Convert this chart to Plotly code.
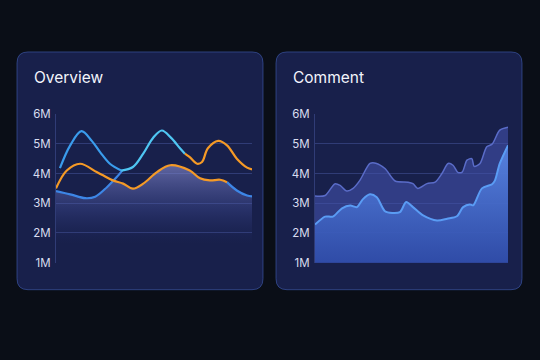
import plotly.graph_objects as go

# ---------------- data ----------------
tick_vals = [1, 2, 3, 4, 5, 6]
tick_text = ["1M", "2M", "3M", "4M", "5M", "6M"]

# Overview panel (values in millions)
ov_area_x = [0, 2.9, 6.0, 8.0, 10.4, 11.6, 13.7, 15.7, 17.8, 20.6, 23.3, 27.3, 29.4, 31.4, 33.5, 34.9, 36.9, 39.0, 40]
ov_area_y = [3.41, 3.3, 3.17, 3.22, 3.54, 3.76, 3.66, 3.49, 3.66, 4.05, 4.28, 4.1, 3.84, 3.77, 3.79, 3.71, 3.43, 3.26, 3.23]

ov_blue_low_x = [0, 2.9, 6.0, 8.0, 10.4, 12.4, 13.5]
ov_blue_low_y = [3.41, 3.3, 3.17, 3.22, 3.54, 3.88, 4.1]

ov_blue_end_x = [34.9, 36.9, 39.0, 40]
ov_blue_end_y = [3.71, 3.43, 3.26, 3.23]

ov_orange_x = [0, 2.2, 4.9, 8.3, 9.6, 11.6, 13.7, 15.7, 17.8, 20.6, 23.3, 27.3, 29.4, 31.4, 33.5, 34.9]
ov_orange_y = [3.5, 4.1, 4.33, 4.05, 3.94, 3.77, 3.66, 3.49, 3.66, 4.05, 4.28, 4.1, 3.84, 3.77, 3.79, 3.71]

ov_blue_top_x = [0.8, 2.9, 5.2, 7.3, 9.0, 11.0, 13.3]
ov_blue_top_y = [4.18, 4.95, 5.43, 5.1, 4.72, 4.33, 4.1]

ov_cyan_x = [13.3, 15.7, 17.8, 19.8, 21.6, 23.5, 25.3, 26.3]
ov_cyan_y = [4.1, 4.22, 4.67, 5.2, 5.45, 5.2, 4.85, 4.67]

ov_orange_top_x = [26.3, 27.3, 28.8, 29.8, 31.0, 33.1, 34.9, 36.9, 39.0, 40]
ov_orange_top_y = [4.67, 4.55, 4.33, 4.39, 4.85, 5.1, 4.95, 4.5, 4.2, 4.14]

# Comment panel
cm_upper_x = [0, 2.1, 4.1, 5.2, 6.6, 7.9, 9.3, 11.4, 12.6, 14.5, 16.6, 19.3, 20.3, 21.3, 23.2, 24.9,
              26.3, 27.6, 28.6, 29.6, 30.5, 31.5, 32.5, 33.0, 34.2, 35.6, 36.7, 38.3, 40]
cm_upper_y = [3.24, 3.26, 3.65, 3.6, 3.41, 3.5, 3.77, 4.34, 4.35, 4.17, 3.75, 3.71, 3.66, 3.5, 3.66, 3.71,
              4.0, 4.34, 4.28, 4.04, 4.05, 4.45, 4.5, 4.24, 4.34, 4.9, 4.99, 5.46, 5.56]

cm_lower_x = [0, 2.1, 3.7, 5.6, 7.3, 8.7, 9.9, 11.4, 12.8, 14.5, 16.0, 17.6, 18.9, 20.3, 22.4, 25.3,
              27.4, 29.4, 30.7, 32.1, 32.8, 34.6, 36.7, 37.3, 38.3, 40]
cm_lower_y = [2.28, 2.55, 2.55, 2.83, 2.92, 2.87, 3.13, 3.3, 3.2, 2.73, 2.67, 2.7, 3.04, 2.87, 2.59, 2.42,
              2.48, 2.56, 2.87, 2.96, 2.93, 3.5, 3.64, 3.77, 4.34, 4.95]

# ---------------- layout helpers ----------------
W, H = 540, 360
# empirical vertical calibration of the capture (y_seen = 0.958*y + 7.2)
VS, VO = 0.958, 7.2


def fx(p):
    return p / W


def fy(p):
    return 1 - ((p - VO) / VS) / H


def rounded_rect(x0, y0, x1, y1, r):
    rx, ry = r / W, (r / VS) / H
    X0, X1 = fx(x0), fx(x1)
    Y0, Y1 = fy(y0), fy(y1)  # Y0 top, Y1 bottom
    return (f"M {X0+rx},{Y0} L {X1-rx},{Y0} Q {X1},{Y0} {X1},{Y0-ry} "
            f"L {X1},{Y1+ry} Q {X1},{Y1} {X1-rx},{Y1} "
            f"L {X0+rx},{Y1} Q {X0},{Y1} {X0},{Y1+ry} "
            f"L {X0},{Y0-ry} Q {X0},{Y0} {X0+rx},{Y0} Z")


fig = go.Figure()

BLUE = "#3d86e6"
CYAN = "#4fc6f2"
ORANGE = "#f59a26"

# ---- Overview traces ----
fig.add_trace(go.Scatter(
    x=ov_area_x, y=ov_area_y, mode="lines", line=dict(width=0, shape="spline", smoothing=1),
    fill="tozeroy",
    fillgradient=dict(type="vertical", start=1.8, stop=4.3,
                      colorscale=[[0, "rgba(40,50,120,0)"], [0.45, "rgba(70,82,160,0.35)"],
                                  [1, "rgba(140,145,215,0.6)"]]),
    xaxis="x", yaxis="y", hoverinfo="skip", showlegend=False))
for xs, ys, col in [(ov_blue_low_x, ov_blue_low_y, BLUE),
                    (ov_blue_end_x, ov_blue_end_y, BLUE),
                    (ov_orange_x, ov_orange_y, ORANGE),
                    (ov_blue_top_x, ov_blue_top_y, "#3a9cec"),
                    (ov_cyan_x, ov_cyan_y, CYAN),
                    (ov_orange_top_x, ov_orange_top_y, ORANGE)]:
    fig.add_trace(go.Scatter(x=xs, y=ys, mode="lines",
                             line=dict(color=col, width=2.2, shape="spline", smoothing=1),
                             xaxis="x", yaxis="y", showlegend=False))

# ---- Comment traces ----
fig.add_trace(go.Scatter(
    x=cm_upper_x, y=cm_upper_y, mode="lines",
    line=dict(color="#5a6cc8", width=1.5, shape="spline", smoothing=0.8),
    fill="tozeroy", fillcolor="rgba(66,82,172,0.6)",
    xaxis="x2", yaxis="y2", showlegend=False))
fig.add_trace(go.Scatter(
    x=cm_lower_x, y=cm_lower_y, mode="lines",
    line=dict(color="#5a9cf4", width=2, shape="spline", smoothing=0.8),
    fill="tozeroy",
    fillgradient=dict(type="vertical", start=1.0, stop=4.5,
                      colorscale=[[0, "rgba(45,75,170,0.85)"], [1, "rgba(85,130,225,0.9)"]]),
    xaxis="x2", yaxis="y2", showlegend=False))

grid_col = "rgba(95,115,200,0.35)"
axis_common = dict(showgrid=False, zeroline=False, showticklabels=False, showline=False,
                   range=[0, 40], fixedrange=True)
yaxis_common = dict(range=[1, 6], tickvals=tick_vals, ticktext=tick_text, showgrid=True,
                    gridcolor=grid_col, gridwidth=1, zeroline=False, showline=True,
                    linecolor=grid_col, linewidth=1, ticks="", ticklabelstandoff=2,
                    tickfont=dict(family="Inter, Roboto, sans-serif", size=11.5, color="#d9ddf0"))

shapes = [
    dict(type="path", xref="paper", yref="paper", path=rounded_rect(17, 52, 263, 289, 11),
         fillcolor="#18204b", line=dict(color="rgba(70,100,190,0.55)", width=1), layer="below"),
    dict(type="path", xref="paper", yref="paper", path=rounded_rect(276, 52, 522, 289, 11),
         fillcolor="#18204b", line=dict(color="rgba(70,100,190,0.55)", width=1), layer="below"),
]

annotations = [
    dict(text="Overview", x=fx(31.5), y=fy(77), xref="paper", yref="paper", xanchor="left",
         yanchor="middle", showarrow=False,
         font=dict(family="Inter, Roboto, sans-serif", size=15.5, color="#f2f4fb")),
    dict(text="Comment", x=fx(291), y=fy(77), xref="paper", yref="paper", xanchor="left",
         yanchor="middle", showarrow=False,
         font=dict(family="Inter, Roboto, sans-serif", size=15.5, color="#f2f4fb")),
]

fig.update_layout(
    width=W, height=H, autosize=False, margin=dict(l=0, r=0, t=0, b=0, pad=0),
    paper_bgcolor="#0a0e17", plot_bgcolor="rgba(0,0,0,0)",
    xaxis=dict(domain=[fx(56), fx(252)], anchor="y", **axis_common),
    yaxis=dict(domain=[fy(262), fy(114)], anchor="x", **yaxis_common),
    xaxis2=dict(domain=[fx(315), fx(508)], anchor="y2", **axis_common),
    yaxis2=dict(domain=[fy(262), fy(114)], anchor="x2", **yaxis_common),
    shapes=shapes, annotations=annotations, showlegend=False,
)

fig.write_html("out.html")
